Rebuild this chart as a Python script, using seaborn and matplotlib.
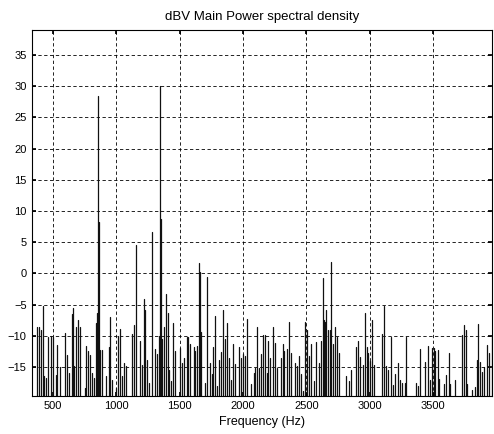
import pandas as pd
import matplotlib
matplotlib.use("Agg")
import matplotlib.pyplot as plt
import seaborn as sns

# spectral lines (Hz, dBV)
freq = [371, 387, 402, 418, 429, 445, 463, 481, 497, 521, 529, 555, 592, 608, 624,
        647, 658, 666, 682, 700, 716, 750, 761, 774, 792, 808, 824, 842, 848, 855, 862,
        871, 882, 919, 940,
        950, 966, 998, 1013, 1029, 1042, 1058, 1074, 1124, 1137, 1153, 1187, 1198, 1214,
        1227, 1245, 1261, 1279, 1303, 1319, 1339, 1345, 1350, 1356, 1374, 1390, 1406, 1416,
        1432, 1445, 1464, 1498, 1514, 1535, 1556,
        1564, 1577, 1609, 1624, 1637, 1651, 1661, 1669, 1703, 1719, 1735, 1751, 1761, 1777,
        1793, 1809, 1824, 1845, 1856, 1872, 1888, 1903, 1919, 1935, 1967, 1982, 1998, 2014,
        2030, 2061, 2085, 2096, 2109, 2125, 2143, 2161, 2177,
        2188, 2198, 2214, 2233, 2251, 2267, 2301, 2312, 2327, 2343, 2359, 2375, 2412, 2425,
        2438, 2454, 2472, 2488, 2501, 2522, 2538, 2562, 2578, 2601, 2617, 2630, 2641, 2645,
        2650, 2657, 2672, 2685, 2691, 2707, 2725, 2741, 2759,
        2815, 2836, 2851, 2894, 2909, 2925, 2944, 2962, 2975, 2988, 3004, 3020, 3036, 3094,
        3112, 3128, 3144, 3165, 3186, 3196, 3223, 3238, 3257, 3275, 3289, 3365, 3383, 3399,
        3439, 3460, 3478, 3491, 3504, 3518, 3536, 3544, 3583, 3604, 3623, 3636, 3676, 3728,
        3741, 3757, 3768, 3805, 3834, 3844, 3857, 3868, 3884, 3905, 3926, 3944, 3962]
dbv = [-8.6, -8.5, -9.1, -5.2, -16.5, -16.7, -10.2, -10.0, -10.2, -16.2, -11.4, -15.0, -9.5, -13.0, -16.0,
       -6.5, -5.6, -14.8, -8.6, -7.4, -8.5, -18.4, -11.6, -12.4, -13.0, -16.0, -16.7, -8.0, -6.3, 28.5, 8.2,
       -12.2, -12.2, -16.5, -11.8,
       -7.0, -17.0, -18.4, -10.0, -8.9, -16.5, -14.3, -14.8, -9.7, -8.2, 4.6, -10.8, -14.6, -4.1,
       -5.9, -13.9, -17.6, 6.6, -12.1, -12.9, -10.0, 30.0, 8.7, -10.5, -8.5, -3.3, -6.3, -15.4,
       -17.3, -7.9, -12.4, -12.0, -14.3, -13.5, -10.2,
       -10.2, -11.3, -11.8, -12.5, -11.6, 1.6, 0.2, -9.4, -17.6, -0.5, -14.3, -16.1, -11.8, -6.8,
       -18.1, -13.9, -12.6, -5.8, -10.5, -7.9, -13.6, -17.0, -11.3, -14.5, -11.8, -13.5, -12.9, -13.2,
       -7.3, -17.7, -16.0, -15.1, -8.5, -15.1, -12.9, -9.9, -9.9,
       -15.9, -10.8, -13.5, -8.5, -11.2, -15.2, -13.5, -11.3, -12.4, -12.1, -7.8, -12.8, -14.3, -14.8,
       -13.2, -16.1, -18.8, -7.8, -9.1, -13.2, -11.3, -17.3, -11.0, -14.3, -10.8, -0.7, -7.5, -7.7,
       -8.0, -5.8, -9.1, -9.0, 1.8, -11.3, -8.5, -10.2, -12.8,
       -16.5, -17.3, -15.5, -11.8, -10.8, -13.4, -14.6, -6.3, -11.8, -12.7, -14.0, -7.5, -14.6, -9.7,
       -5.2, -14.8, -15.5, -10.2, -17.8, -16.1, -14.3, -17.0, -17.6, -17.5, -10.2, -17.6, -18.0, -12.1,
       -14.2, -11.7, -17.0, -12.0, -12.0, -12.4, -12.2, -16.9, -17.7, -16.3, -12.7, -17.7, -17.1, -9.8,
       -8.2, -9.0, -17.7, -18.6, -18.2, -13.9, -8.1, -14.2, -15.8, -15.0, -11.4, -12.8, -9.8]

xticks = [500, 1000, 1500, 2000, 2500, 3000, 3500]
yticks = [-15, -10, -5, 0, 5, 10, 15, 20, 25, 30, 35]

# every line rises from below the visible floor to its level
floor = -30
rows = []
for i, (f, v) in enumerate(zip(freq, dbv)):
    rows.append({"spike": i, "Frequency": f, "dBV": floor})
    rows.append({"spike": i, "Frequency": f, "dBV": v})
df = pd.DataFrame(rows)

sns.set_theme(style="white")
plt.rcParams["font.family"] = ["Liberation Sans", "DejaVu Sans"]

fig = plt.figure(figsize=(4.94, 4.34), dpi=100)
ax = fig.add_axes([0.065, 0.088, 0.931, 0.843])

sns.lineplot(data=df, x="Frequency", y="dBV", units="spike", estimator=None,
             color="#111111", linewidth=0.9, sort=False, ax=ax, legend=False)

ax.set_xlim(334, 3966)
ax.set_ylim(-19.6, 39)
ax.set_xticks(xticks)
ax.set_yticks(yticks)
ax.grid(True, color="black", linestyle=(0, (4, 3)), linewidth=0.6)
ax.set_axisbelow(True)
ax.tick_params(direction="in", length=3, labelsize=8, colors="black", pad=4,
               top=True, right=True, bottom=True, left=True)
for s in ax.spines.values():
    s.set_color("black")
    s.set_linewidth(0.8)

ax.set_title("dBV Main Power spectral density", fontsize=9.5, pad=7, color="black")
ax.set_xlabel("Frequency (Hz)", fontsize=9, labelpad=3, color="black")
ax.set_ylabel("")

fig.savefig("out.png", dpi=100)
